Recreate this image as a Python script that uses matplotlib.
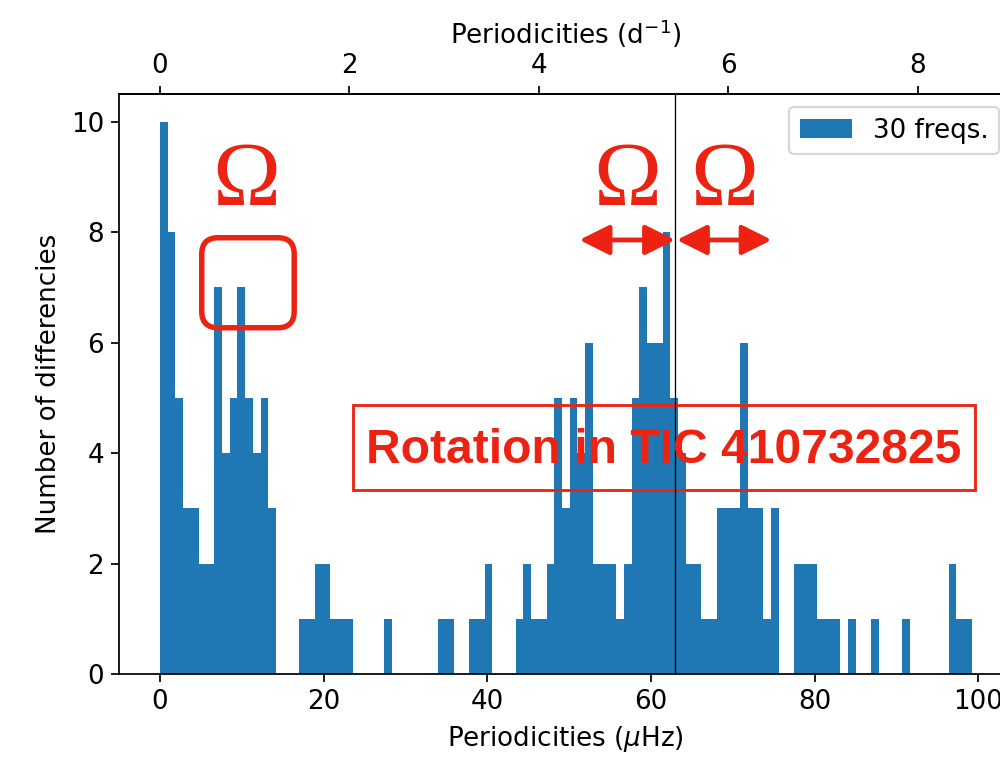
import numpy as np
import matplotlib
matplotlib.use("Agg")
import matplotlib.pyplot as plt
from matplotlib.patches import FancyBboxPatch, Rectangle

# histogram of frequency differences (105 bins between 0 and ~99.2 muHz)
bin_max = 99.2
counts = [10, 8, 5, 3, 3, 2, 2, 7, 4, 5, 7, 5, 4, 5, 3,
          0, 0, 0, 1, 1, 2, 2, 1, 1, 1, 0, 0, 0, 0, 1,
          0, 0, 0, 0, 0, 0, 1, 1, 0, 0, 1, 1, 2, 0, 0,
          0, 1, 2, 1, 1, 2, 5, 3, 5, 4, 6, 2, 2, 2, 1,
          2, 5, 7, 6, 6, 8, 5, 4, 2, 2, 1, 1, 3, 3, 3,
          6, 3, 3, 1, 3, 0, 0, 2, 2, 2, 1, 1, 1, 0, 1,
          0, 0, 1, 0, 0, 0, 1, 0, 0, 0, 0, 0, 2, 1, 1]
label = "30 freqs."
f_rot = 62.95        # muHz, vertical line
omega = 11.7         # muHz, rotation spacing
star = "Rotation in TIC 410732825"

red = '#ec2312'
uhz_to_cd = 0.0864

plt.rcParams['font.size'] = 12

edges = np.linspace(0, bin_max, len(counts) + 1)
centers = 0.5 * (edges[:-1] + edges[1:])

dpi = 157
fig = plt.figure(figsize=(1000 / dpi, 758 / dpi), dpi=dpi)
ax = fig.add_axes([0.1194, 0.1108, 0.893, 0.765])

ax.hist(centers, bins=edges, weights=counts, color='C0', label=label)
ax.axvline(f_rot, color='k', lw=0.6)

ax.set_xlabel(r"Periodicities ($\mu$Hz)")
ax.set_ylabel("Number of differencies")
ax.legend(loc='upper right', fontsize=12)

top = ax.secondary_xaxis('top', functions=(lambda x: x * uhz_to_cd, lambda x: x / uhz_to_cd))
top.set_xlabel(r"Periodicities (d$^{-1}$)")

# rotation annotations
ax.annotate('', xy=(f_rot - omega, 7.86), xytext=(f_rot, 7.86),
            arrowprops=dict(arrowstyle='<|-|>', color=red, lw=2.2, mutation_scale=29,
                            shrinkA=0, shrinkB=0))
ax.annotate('', xy=(f_rot + 0.2, 7.86), xytext=(f_rot + omega + 0.1, 7.86),
            arrowprops=dict(arrowstyle='<|-|>', color=red, lw=2.2, mutation_scale=29,
                            shrinkA=0, shrinkB=0))

for xo in [10.6, f_rot - omega / 2, f_rot + omega / 2 + 0.2]:
    ax.text(xo, 8.5, u"\u03A9", color=red, fontsize=42, family='Liberation Serif',
            ha='center', va='baseline')

asp = (55.2 / 8.185)
box = FancyBboxPatch((5.1, 6.27), 11.3, 1.63,
                     boxstyle="round,pad=0,rounding_size=2.0",
                     mutation_aspect=1 / asp, fc='none', ec=red, lw=2.5)
ax.add_patch(box)

ax.add_patch(Rectangle((23.58, 3.33), 75.99, 1.54, fc='none', ec=red, lw=1.3))
ax.text(61.6, 4.05, star, color=red, fontsize=22, fontweight='bold',
        family='Liberation Sans', ha='center', va='center')

fig.savefig("out.png", dpi=dpi)
